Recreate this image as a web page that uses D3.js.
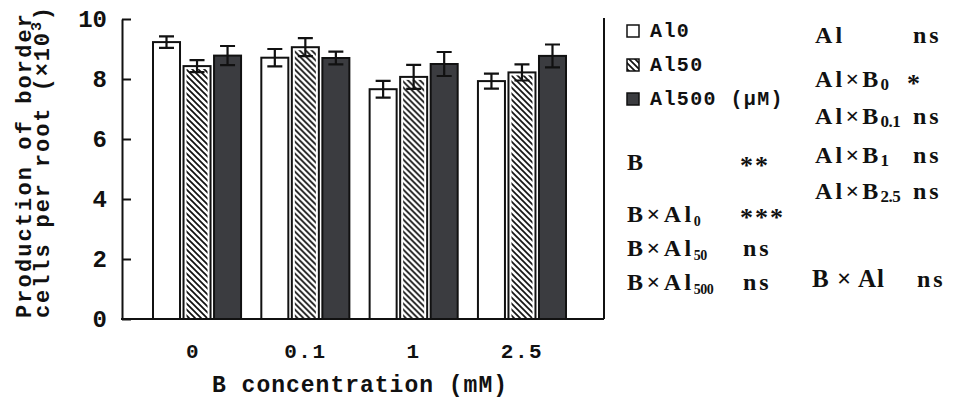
<!DOCTYPE html>
<html>
<head>
<meta charset="utf-8">
<script src="https://cdn.jsdelivr.net/npm/d3@7"></script>
<style>
  html, body { margin: 0; padding: 0; background: #fff; }
  svg { display: block; }
  .mono { font-family: "Liberation Mono", "DejaVu Sans Mono", monospace; font-weight: bold; fill: #111; }
  .serif { font-family: "Liberation Serif", "DejaVu Serif", serif; font-weight: bold; fill: #111; }
</style>
</head>
<body>
<svg id="chart" width="954" height="399"></svg>
<script>
// B treatments (mM) on the x axis
const categories = ["0", "0.1", "1", "2.5"];
// Al treatments
const seriesNames = ["Al0", "Al50", "Al500 (μM)"];
// border cells per root (×10³), mean and error for each Al level
const al0Values  = [9.23, 8.71, 7.66, 7.93];
const al0Errors  = [0.19, 0.29, 0.28, 0.25];
const al50Values = [8.43, 9.06, 8.07, 8.22];
const al50Errors = [0.20, 0.30, 0.40, 0.27];
const al500Values = [8.78, 8.70, 8.50, 8.77];
const al500Errors = [0.32, 0.21, 0.40, 0.38];
const yTickValues = [0, 2, 4, 6, 8, 10];

// significance notes: [main text, subscript, mark]
const bEffects = [
  ["B", "", "**"],
  ["B×Al", "0", "***"],
  ["B×Al", "50", "ns"],
  ["B×Al", "500", "ns"]
];
const alEffects = [
  ["Al", "", "ns"],
  ["Al×B", "0", "*"],
  ["Al×B", "0.1", "ns"],
  ["Al×B", "1", "ns"],
  ["Al×B", "2.5", "ns"]
];
const interaction = ["B × Al", "ns"];

const series = [
  { name: seriesNames[0], values: al0Values, errors: al0Errors, fill: "#ffffff" },
  { name: seriesNames[1], values: al50Values, errors: al50Errors, fill: "url(#hatch)" },
  { name: seriesNames[2], values: al500Values, errors: al500Errors, fill: "#3b3c40" }
];

const svg = d3.select("#chart");
const plotLeft = 122, plotRight = 604, plotTop = 19, plotBottom = 319;

// hatch pattern for the Al50 bars
const defs = svg.append("defs");
const pat = defs.append("pattern")
  .attr("id", "hatch").attr("patternUnits", "userSpaceOnUse")
  .attr("width", 6).attr("height", 6);
pat.append("rect").attr("width", 6).attr("height", 6).attr("fill", "#fff");
pat.append("path").attr("d", "M-1,-1 L7,7 M-4,2 L1,7 M5,-1 L7,1")
  .attr("stroke", "#111").attr("stroke-width", 1.7);

const y = d3.scaleLinear().domain([0, 10]).range([plotBottom, plotTop]);
const x0 = d3.scaleBand().domain(categories).range([153, 566])
  .paddingInner(0.187).paddingOuter(0);
const x1 = d3.scaleBand().domain(d3.range(series.length))
  .range([0, x0.bandwidth()]).paddingInner(0.115).paddingOuter(0);

// bars
const groups = svg.append("g").selectAll("g")
  .data(categories).join("g")
  .attr("transform", d => `translate(${x0(d)},0)`);

groups.each(function (cat, ci) {
  const g = d3.select(this);
  series.forEach((s, si) => {
    const bx = x1(si), bw = x1.bandwidth();
    const v = s.values[ci], e = s.errors[ci];
    if (si === 1) {
      g.append("rect").attr("x", bx).attr("y", y(v))
        .attr("width", bw).attr("height", y(0) - y(v))
        .attr("fill", "#fff").attr("stroke", "#111").attr("stroke-width", 2);
      g.append("rect").attr("x", bx + 3).attr("y", y(v) + 3)
        .attr("width", bw - 6).attr("height", y(0) - y(v) - 3)
        .attr("fill", s.fill);
    } else {
      g.append("rect").attr("x", bx).attr("y", y(v))
        .attr("width", bw).attr("height", y(0) - y(v))
        .attr("fill", s.fill).attr("stroke", "#111").attr("stroke-width", 2);
    }
    // error bar
    const cx = bx + bw / 2, cap = 7.5;
    g.append("path")
      .attr("d", `M${cx},${y(v + e)}V${y(v - e)}M${cx - cap},${y(v + e)}H${cx + cap}M${cx - cap},${y(v - e)}H${cx + cap}`)
      .attr("stroke", "#111").attr("stroke-width", 2.2).attr("fill", "none");
  });
});

// y axis with inward ticks
const yAxis = svg.append("g").attr("transform", `translate(${plotLeft},0)`)
  .call(d3.axisLeft(y).tickValues(yTickValues).tickFormat(d3.format("d"))
    .tickSizeInner(-9).tickSizeOuter(0).tickPadding(15));
yAxis.select(".domain").attr("stroke", "#111").attr("stroke-width", 2);
yAxis.selectAll(".tick line").attr("stroke", "#111").attr("stroke-width", 2);
yAxis.selectAll(".tick text").attr("class", "mono")
  .style("font-size", "24px").attr("fill", "#111");

// x axis labels
const xAxis = svg.append("g").attr("transform", `translate(0,${plotBottom})`)
  .call(d3.axisBottom(x0).tickSize(0).tickPadding(24));
xAxis.select(".domain").remove();
xAxis.selectAll(".tick text").attr("class", "mono")
  .style("font-size", "21px").style("letter-spacing", "1.5px").attr("fill", "#111")
  .attr("dx", (d, i) => i === 0 ? -4 : 0);

// baseline and right frame line
svg.append("line").attr("x1", plotLeft - 1).attr("x2", plotRight).attr("y1", y(0)).attr("y2", y(0))
  .attr("stroke", "#111").attr("stroke-width", 2);
svg.append("line").attr("x1", plotRight).attr("x2", plotRight).attr("y1", y(10) - 1).attr("y2", y(0))
  .attr("stroke", "#111").attr("stroke-width", 2);

// axis titles
svg.append("text").attr("class", "mono")
  .attr("x", 360).attr("y", 392).attr("text-anchor", "middle")
  .style("font-size", "23px").style("letter-spacing", "1px")
  .text("B concentration (mM)");

svg.append("text").attr("class", "mono")
  .attr("transform", "translate(31,318) rotate(-90)")
  .style("font-size", "22px").style("letter-spacing", "2.1px")
  .text("Production of border");
const yl2 = svg.append("text").attr("class", "mono")
  .attr("transform", "translate(49,318) rotate(-90)")
  .style("font-size", "22px").style("letter-spacing", "1.9px");
yl2.append("tspan").text("cells per root (×10");
yl2.append("tspan").attr("dy", -8).style("font-size", "15px").text("3");
yl2.append("tspan").attr("dy", 8).text(")");

// legend
const legendY = [25, 59, 93];
const legend = svg.append("g");
series.forEach((s, i) => {
  legend.append("rect").attr("x", 627).attr("y", legendY[i]).attr("width", 12).attr("height", 12)
    .attr("fill", s.fill).attr("stroke", "#111").attr("stroke-width", 1.5);
  legend.append("text").attr("class", "mono")
    .attr("x", 650).attr("y", legendY[i] + 12)
    .style("font-size", "20px").style("letter-spacing", "1.4px")
    .text(s.name);
});

// significance notes, B effects column
const bRowBase = [170, 222, 256, 290];
bEffects.forEach((r, i) => {
  const t = svg.append("text").attr("class", "serif")
    .attr("x", 627).attr("y", bRowBase[i])
    .style("font-size", "24px").style("letter-spacing", "3.5px");
  t.append("tspan").text(r[0]);
  if (r[1]) {
    t.append("tspan").attr("dx", -1).attr("dy", 4)
      .style("font-size", "14px").style("letter-spacing", "-0.5px").text(r[1]);
  }
  const isStar = r[2].startsWith("*");
  svg.append("text").attr("class", "serif")
    .attr("x", isStar ? 740 : 743).attr("y", isStar ? bRowBase[i] + 4 : bRowBase[i])
    .style("font-size", isStar ? "26px" : "24px")
    .style("letter-spacing", isStar ? "2px" : "3px")
    .text(r[2]);
});

// significance notes, Al effects column
const alRowBase = [43, 87, 124, 163, 199];
alEffects.forEach((r, i) => {
  const t = svg.append("text").attr("class", "serif")
    .attr("x", 815).attr("y", alRowBase[i])
    .style("font-size", "24px").style("letter-spacing", "3.2px");
  t.append("tspan").text(r[0]);
  if (r[1]) {
    t.append("tspan").attr("dx", -1).attr("dy", 3)
      .style("font-size", "17px").style("letter-spacing", "-0.5px").text(r[1]);
  }
  const isStar = r[2].startsWith("*");
  svg.append("text").attr("class", "serif")
    .attr("x", isStar ? 907 : 913).attr("y", isStar ? alRowBase[i] + 5 : alRowBase[i])
    .style("font-size", isStar ? "26px" : "24px")
    .style("letter-spacing", "3px")
    .text(r[2]);
});

svg.append("text").attr("class", "serif")
  .attr("x", 812).attr("y", 287)
  .style("font-size", "25px").style("letter-spacing", "1px")
  .text(interaction[0]);
svg.append("text").attr("class", "serif")
  .attr("x", 917).attr("y", 287)
  .style("font-size", "24px").style("letter-spacing", "3px")
  .text(interaction[1]);
</script>
</body>
</html>
